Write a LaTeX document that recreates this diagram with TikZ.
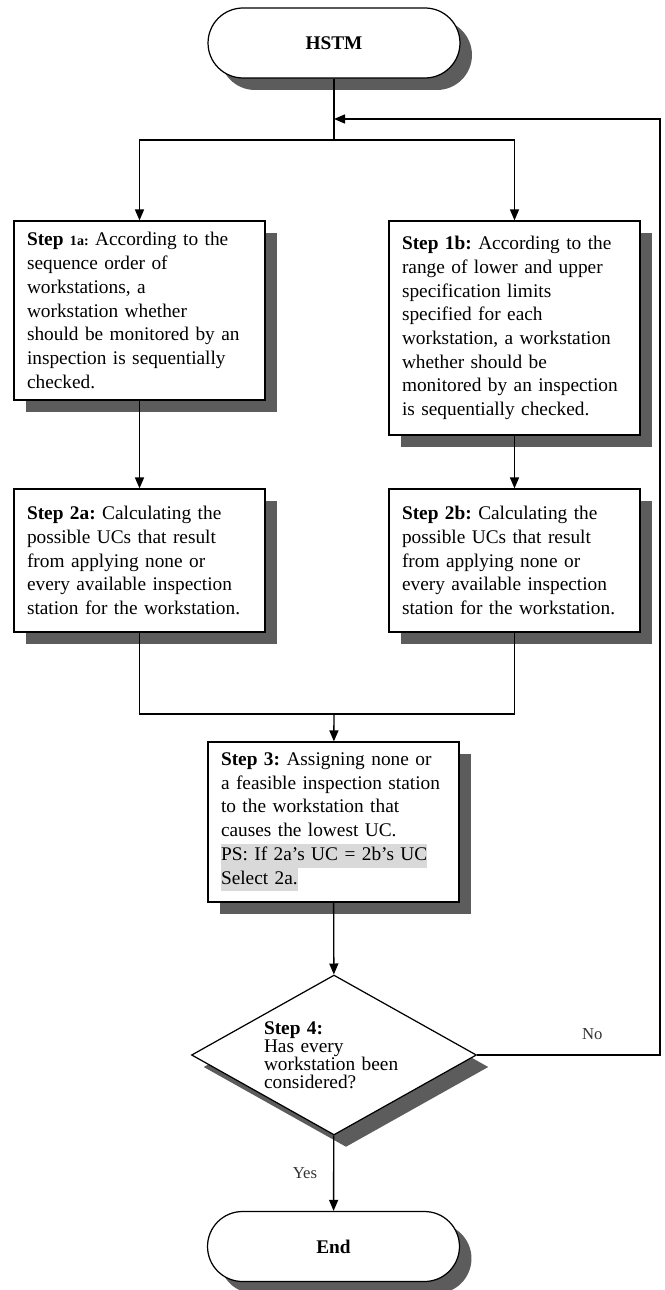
\documentclass[tikz,border=0pt]{standalone}
\usepackage{fontspec}
\setmainfont{Liberation Serif}
\usetikzlibrary{shapes.geometric,shadows,arrows.meta}
\frenchspacing

\definecolor{shadowgray}{gray}{0.36}
\definecolor{markgray}{gray}{0.85}
\newcommand{\psmark}[1]{{\setlength{\fboxsep}{0pt}\colorbox{markgray}{\strut #1}}}

\tikzset{
  castshadow/.style={drop shadow={shadow xshift=0.24cm, shadow yshift=-0.24cm, fill=shadowgray, opacity=1}},
  box/.style={draw, fill=white, rectangle, line width=0.7pt, minimum width=5.02cm,
    text width=4.5cm, inner xsep=0.26cm, align=left, font=\fontsize{11}{13.5}\selectfont, castshadow},
  term/.style={draw, fill=white, rounded corners=0.7cm, line width=0.7pt, minimum width=5.04cm,
    minimum height=1.4cm, font=\bfseries\fontsize{11}{13.5}\selectfont, castshadow},
  decision/.style={draw, fill=white, diamond, aspect=1.78, line width=0.7pt, minimum width=5.7cm, minimum height=3.2cm,
    inner sep=0pt, text width=2.8cm, align=left, font=\fontsize{11}{10.2}\selectfont, castshadow},
  lbl/.style={font=\fontsize{9.5}{11}\selectfont, text=black!80}
}

\begin{document}
\begin{tikzpicture}[x=0.02cm, y=-0.02cm, >={Triangle[length=0.22cm,width=0.18cm]}, line width=0.8pt]
    \useasboundingbox (0,0) rectangle (664,1290);

    % Start
    \node[term] (hstm) at (334,43) {HSTM};
    \coordinate (back) at (334,119);
    \coordinate (split) at (334,140);

    % Two branches
    \node[box, minimum height=3.58cm] (s1a) at (139.5,310.5) {\textbf{Step {\fontsize{8}{9}\selectfont 1a:}} According to the\\ sequence order of\\ workstations, a\\ workstation whether\\ should be monitored by an\\ inspection is sequentially\\ checked.};
    \node[box, minimum height=4.28cm] (s1b) at (514.5,328) {\textbf{Step 1b:} According to the\\ range of lower and upper\\ specification limits\\ specified for each\\ workstation, a workstation\\ whether should be\\ monitored by an inspection\\ is sequentially checked.};
    \node[box, minimum height=2.86cm] (s2a) at (139.5,560.5) {\textbf{Step 2a:} Calculating the\\ possible UCs that result\\ from applying none or\\ every available inspection\\ station for the workstation.};
    \node[box, minimum height=2.86cm] (s2b) at (514.5,560.5) {\textbf{Step 2b:} Calculating the\\ possible UCs that result\\ from applying none or\\ every available inspection\\ station for the workstation.};
    \coordinate (merge) at (334,714);

    % Selection and test
    \node[box, minimum height=3.2cm] (s3) at (333.5,822) {\textbf{Step 3:} Assigning none or\\ a feasible inspection station\\ to the workstation that\\ causes the lowest UC.\\ \psmark{PS: If 2a’s UC = 2b’s UC}\\ \psmark{Select 2a.}};
    \node[decision] (s4) at (334,1055) {\textbf{Step 4:}\\ Has every\\ workstation been\\ considered?};
    \coordinate (corner) at (660,1055);
    \node[term] (end) at (333.5,1246.5) {End};

    % Connectors
    \draw (hstm) -- (split);
    \draw[->] (split) -| (s1a);
    \draw[->] (split) -| (s1b);
    \draw[->] (s1a) -- (s2a);
    \draw[->] (s1b) -- (s2b);
    \draw (s2a) |- (merge);
    \draw (s2b) |- (merge);
    \draw[->] (merge) -- (s3);
    \draw[->] (s3) -- (s4);
    \draw[->] (s4) -- node[lbl, left=0.2cm] {Yes} (end);
    \draw[->] (s4) -- node[lbl, above=5pt, pos=0.63] {No} (corner) |- (back);
\end{tikzpicture}
\end{document}
